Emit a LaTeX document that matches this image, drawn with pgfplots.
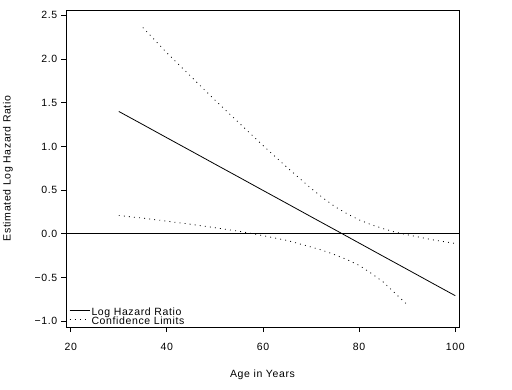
\documentclass[border=0pt]{standalone}
\usepackage{pgfplots}
\pgfplotsset{compat=1.18}
\usepackage{fontspec}
\setmainfont{Liberation Sans}[LetterSpace=6]
\begin{document}
\fontsize{10.5}{12}\selectfont
\begin{tikzpicture}[x=1pt,y=1pt]
\useasboundingbox (0,0) rectangle (512,389);
\begin{axis}[
  at={(66pt,62pt)}, anchor=south west,
  scale only axis, width=393pt, height=317pt,
  xmin=19.02, xmax=100.77, ymin=-1.065, ymax=2.56,
  axis line style={line width=0.9pt},
  tick align=outside, tick pos=left,
  major tick length=5pt,
  every tick/.style={black, line width=0.8pt},
  xtick={20,40,60,80,100},
  ytick={-1,-0.5,0,0.5,1,1.5,2,2.5},
  yticklabels={−1.0,−0.5,0.0,0.5,1.0,1.5,2.0,2.5},
  xticklabels={20,40,60,80,100},
  xticklabel style={yshift=-7pt},
  xlabel={Age in Years},
  ylabel={Estimated Log Hazard Ratio},
  xlabel style={at={(axis description cs:0.5,0)}, anchor=center, yshift=-48pt},
  ylabel style={at={(axis description cs:-0.1476,0.5)}, anchor=center},
  legend cell align=left,
  legend style={at={(0,0)}, anchor=south west, xshift=3pt, yshift=1pt,
    draw=none, fill=none, inner sep=0pt, row sep=0pt,
    nodes={inner sep=0pt, inner xsep=1.5pt}},
  legend image code/.code={\draw[#1] (0pt,2pt) -- (20pt,2pt);},
]
\addplot[black, line width=0.8pt] coordinates {
  (30,1.400) (35,1.250) (40,1.099) (45,0.949) (50,0.798) (55,0.648)
  (60,0.497) (65,0.347) (70,0.196) (75,0.046) (80,-0.105) (85,-0.256)
  (90,-0.406) (95,-0.557) (100,-0.707)};
\addlegendentry{Log Hazard Ratio}
\addplot[black, line width=0.8pt, dash pattern=on 0.9pt off 4.2pt] coordinates {
  (35,2.36) (40,2.07) (45,1.80) (50,1.53) (55,1.27) (60,1.01) (65,0.76)
  (70,0.52) (72.5,0.41) (75,0.31) (77.5,0.23) (80,0.16) (82.5,0.105)
  (85,0.06) (87.5,0.02) (90,-0.01) (95,-0.065) (100,-0.11)};
\addlegendentry{Confidence Limits}
\addplot[black, line width=0.8pt, dash pattern=on 0.9pt off 4.2pt, forget plot] coordinates {
  (30,0.21) (35,0.18) (40,0.145) (45,0.11) (50,0.07) (55,0.03) (60,-0.02)
  (65,-0.075) (70,-0.15) (72.5,-0.19) (75,-0.24) (77.5,-0.295) (80,-0.36)
  (82.5,-0.45) (85,-0.55) (87.5,-0.68) (90,-0.81)};
\addplot[black, line width=0.9pt, forget plot] coordinates {(19.02,0) (100.77,0)};
\end{axis}
\end{tikzpicture}
\end{document}
